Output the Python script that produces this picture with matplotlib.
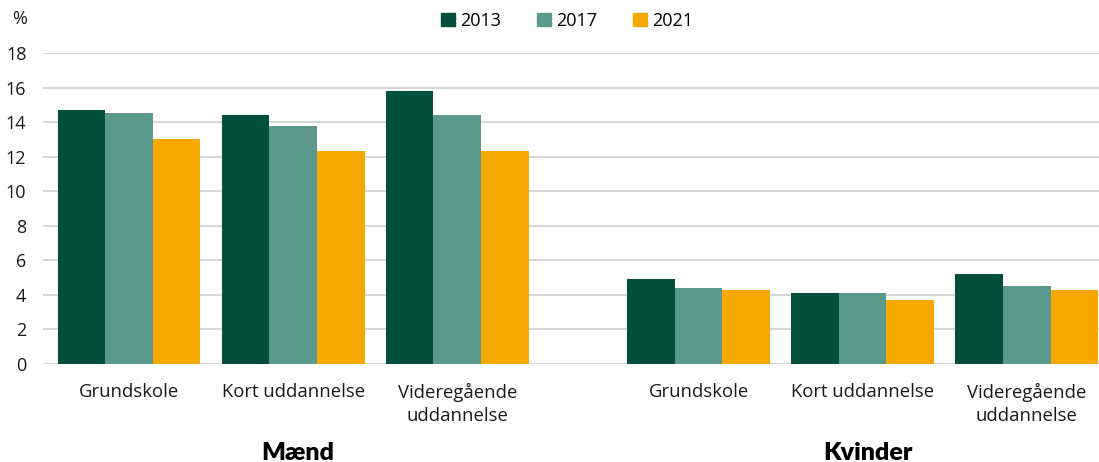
import numpy as np
from matplotlib import pyplot as plt
from matplotlib.patches import Patch

# data
kategorier = ["Grundskole", "Kort uddannelse", "Videregående\nuddannelse"]
grupper = ["Mænd", "Kvinder"]
aar = ["2013", "2017", "2021"]
maend = {
    "2013": [14.7, 14.4, 15.8],
    "2017": [14.5, 13.8, 14.4],
    "2021": [13.0, 12.3, 12.3],
}
kvinder = {
    "2013": [4.9, 4.1, 5.2],
    "2017": [4.4, 4.1, 4.5],
    "2021": [4.3, 3.7, 4.3],
}
farver = {"2013": "#024F3B", "2017": "#5A998C", "2021": "#F7A800"}
yticks = [0, 2, 4, 6, 8, 10, 12, 14, 16, 18]

plt.rcParams['font.family'] = ['Open Sans', 'DejaVu Sans']

fig = plt.figure(figsize=(10.99, 4.62), dpi=100)
ax = fig.add_axes([0.0391, 0.2121, 0.9609, 0.6732])

# positioner: tre grupper for mænd, et mellemrum, tre for kvinder
x_m = np.arange(3)
x_k = np.arange(3) + 3.47
bw = 0.29

for i, a in enumerate(aar):
    off = (i - 1) * bw
    ax.bar(x_m + off, maend[a], bw, color=farver[a], zorder=3)
    ax.bar(x_k + off, kvinder[a], bw, color=farver[a], zorder=3)

ax.set_xlim(-0.524, 5.91)
ax.set_ylim(0, 18)
ax.set_yticks(yticks)
ax.set_yticklabels([str(t) for t in yticks], fontsize=13, color="#1a1a1a")
ax.set_xticks(np.concatenate([x_m, x_k]))
ax.set_xticklabels(kategorier + kategorier, fontsize=13.3, color="#1a1a1a",
                   linespacing=1.3)
ax.tick_params(axis="y", length=0, pad=12)
ax.tick_params(axis="x", length=0, pad=14)

ax.grid(axis="y", color="#D0D0D0", linewidth=1.2, zorder=0)
for s in ax.spines.values():
    s.set_visible(False)

# gruppe-navne
for xc, navn in zip([x_m[1], x_k[1]], grupper):
    ax.text(xc + 0.03, -0.285, navn, transform=ax.get_xaxis_transform(),
            ha="center", va="center", fontsize=18, fontweight="heavy",
            family=["Lato", "DejaVu Sans"])

fig.text(20 / 1099, 1 - 19 / 462, "%", ha="center", va="center",
         fontsize=13, color="#1a1a1a")

handles = [Patch(color=farver[a], label=a) for a in aar]
fig.legend(handles=handles, loc="center", bbox_to_anchor=(0.516, 1 - 21 / 462),
           ncol=3, frameon=False, fontsize=13, handlelength=0.75,
           handleheight=0.75, handletextpad=0.3, columnspacing=2.0)

fig.savefig("out.png", dpi=100)
